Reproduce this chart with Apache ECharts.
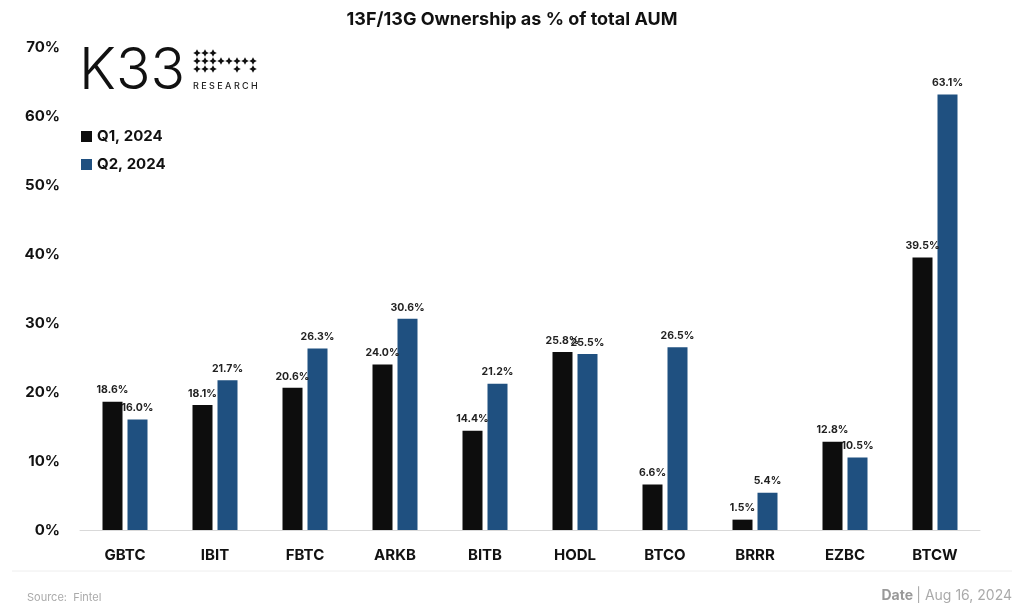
<!DOCTYPE html>
<html>
<head>
<meta charset="utf-8">
<script src="https://cdn.jsdelivr.net/npm/echarts@6/dist/echarts.min.js"></script>
<style>
html,body{margin:0;padding:0;background:#fff;}
#c{width:1024px;height:616px;}
</style>
</head>
<body>
<div id="c"></div>
<script>
const categories = ['GBTC','IBIT','FBTC','ARKB','BITB','HODL','BTCO','BRRR','EZBC','BTCW'];
const q1Values = [18.6,18.1,20.6,24.0,14.4,25.8,6.6,1.5,12.8,39.5];
const q2Values = [16.0,21.7,26.3,30.6,21.2,25.5,26.5,5.4,10.5,63.1];
const seriesNames = ['Q1, 2024','Q2, 2024'];

const FONT = 'Inter, "Open Sans", sans-serif';
const chart = echarts.init(document.getElementById('c'));

// logo star-dots
const dots = [];
const rows = [53,61,69];
const cols = [197,205,213,221,229,237,245,253];
const pattern = [
  [1,1,1,0,0,0,0,0],
  [1,1,1,1,1,1,1,1],
  [1,1,1,0,0,1,0,1]
];
function star(cx,cy,r){
  const k=r*0.35;
  return [[cx,cy-r],[cx+k,cy-k],[cx+r,cy],[cx+k,cy+k],[cx,cy+r],[cx-k,cy+k],[cx-r,cy],[cx-k,cy-k]];
}
pattern.forEach((r,i)=>r.forEach((v,j)=>{
  if(v) dots.push({type:'polygon',shape:{points:star(cols[j],rows[i],3.8)},style:{fill:'#111'}});
}));

chart.setOption({
  backgroundColor:'#fff',
  animation:false,
  title:{
    text:'13F/13G Ownership as % of total AUM',
    left:'center', top:6,
    textStyle:{fontFamily:FONT,fontSize:18,fontWeight:'bold',color:'#111'}
  },
  legend:{
    orient:'vertical', left:76, top:124, itemGap:13,
    itemWidth:11, itemHeight:11, icon:'rect',
    textStyle:{fontFamily:FONT,fontSize:15,fontWeight:'bold',color:'#111'},
    data:seriesNames
  },
  grid:{left:80,right:44,top:47,bottom:86},
  xAxis:{
    type:'category', data:categories,
    axisLine:{lineStyle:{color:'#d9d9d9'}},
    axisTick:{show:false},
    axisLabel:{fontFamily:FONT,fontSize:15,fontWeight:'bold',color:'#111',margin:18}
  },
  yAxis:{
    type:'value', min:0, max:70, interval:10,
    splitLine:{show:false},
    axisLine:{show:false}, axisTick:{show:false},
    axisLabel:{formatter:'{value}%',fontFamily:FONT,fontSize:15,fontWeight:'bold',color:'#111',margin:20}
  },
  series:[
    {name:seriesNames[0],type:'bar',data:q1Values,barWidth:20,barGap:'25%',
     itemStyle:{color:'#0d0d0d'},
     label:{show:true,position:'top',formatter:p=>p.value.toFixed(1)+'%',fontFamily:FONT,fontSize:10.5,fontWeight:'bold',color:'#222',distance:6}},
    {name:seriesNames[1],type:'bar',data:q2Values,barWidth:20,
     itemStyle:{color:'#1f5080'},
     label:{show:true,position:'top',formatter:p=>p.value.toFixed(1)+'%',fontFamily:FONT,fontSize:10.5,fontWeight:'bold',color:'#222',distance:6}}
  ],
  graphic:[
    {type:'text',left:79,top:43,style:{text:'K33',font:'300 57px '+FONT,fill:'#111'}},
    {type:'text',left:193,top:82,style:{text:'R E S E A R C H',font:'500 9px '+FONT,fill:'#222'}},
    {type:'group',children:dots},
    {type:'line',shape:{x1:12,y1:571,x2:1012,y2:571},style:{stroke:'#eeeeee',lineWidth:1}},
    {type:'text',left:27,top:592,style:{text:'Source:  Fintel',font:'11px '+FONT,fill:'#aaa'}},
    {type:'text',right:12,top:589,style:{rich:{b:{font:'bold 14px '+FONT,fill:'#999'},n:{font:'14px '+FONT,fill:'#aaa'}},text:'{b|Date} {n|| Aug 16, 2024}'}}
  ]
});
</script>
</body>
</html>
